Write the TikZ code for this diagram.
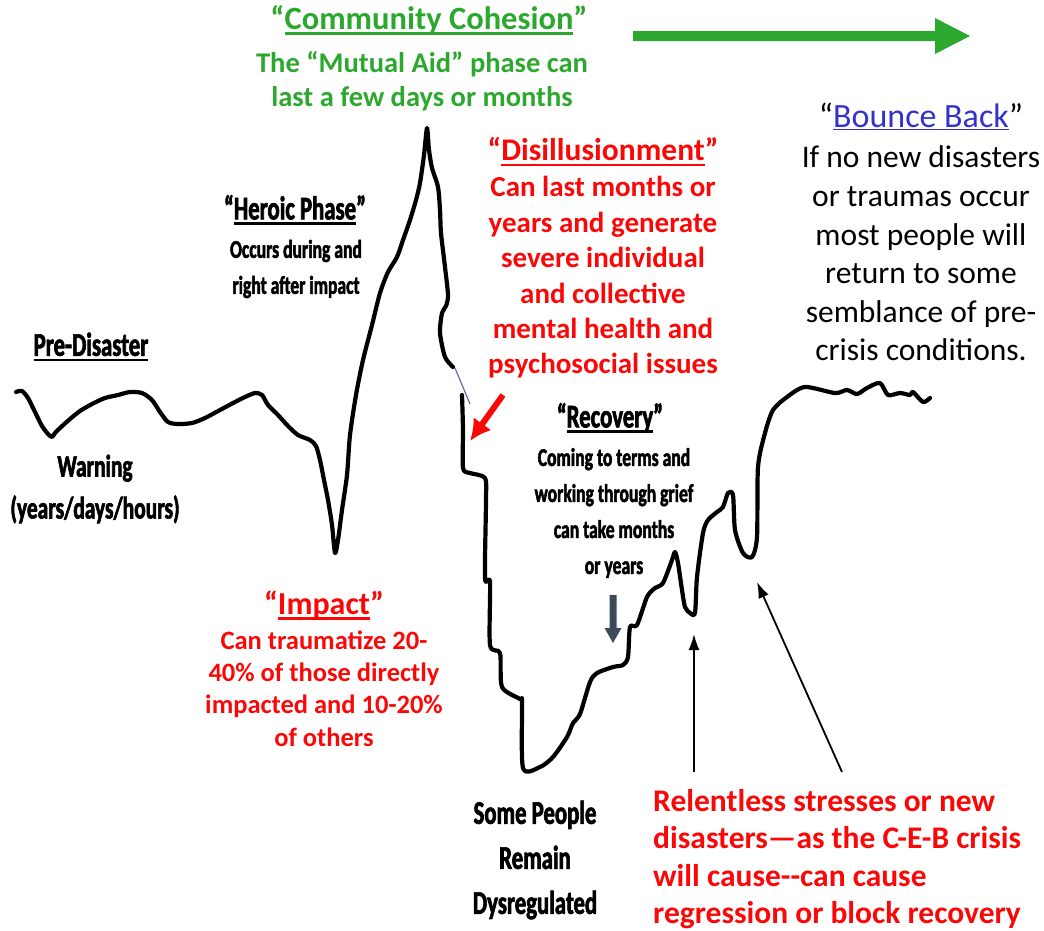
\documentclass[tikz,border=0pt]{standalone}
\usepackage{fontspec}
\setmainfont{Carlito}
\newfontfamily\condensed[FakeStretch=0.69, FakeBold=2]{Carlito}
\usetikzlibrary{arrows.meta}

\definecolor{cohesiongreen}{RGB}{44,168,46}
\definecolor{alertred}{RGB}{250,8,8}
\definecolor{linkblue}{RGB}{51,51,204}
\definecolor{slate}{RGB}{61,74,92}
\definecolor{dusk}{RGB}{125,95,175}

% heavier underline, close under the baseline
\newcommand{\thickunder}[1]{\setbox0\hbox{#1}\rlap{\rule[-0.17em]{\wd0}{0.085em}}\box0}

\begin{document}
\begin{tikzpicture}[x=1pt, y=-1pt,
  every node/.style = {align=center, inner sep=0pt},
  curve/.style = {draw, line width=4.2pt, line join=round, line cap=round},
  pointer/.style = {draw, line width=1.8pt, -{Latex[length=16pt,width=11pt]}},
  phase/.style = {font=\condensed\bfseries\fontsize{33}{38}\selectfont},
  phase note/.style = {font=\condensed\bfseries\fontsize{25.5}{36}\selectfont},
  cohesion/.style = {text=cohesiongreen, font=\bfseries\fontsize{28.5}{34}\selectfont},
  alarm/.style = {text=alertred, font=\bfseries\fontsize{29}{35.4}\selectfont},
  bounce/.style = {font=\fontsize{31.5}{38.6}\selectfont}]

\useasboundingbox (0,0) rectangle (1044,930);

% Define the phase labels
\node[cohesion, font=\bfseries\fontsize{32.5}{34}\selectfont] (cohesion) at (429,20)
  {“\thickunder{Community Cohesion}”};
\node[cohesion] (mutual aid) at (422,81) {The “Mutual Aid” phase can\\last a few days or months};

\node[bounce, font=\fontsize{34}{38.6}\selectfont] (bounce back) at (921,116)
  {“\textcolor{linkblue}{\underline{Bounce Back}}”};
\node[bounce] (bounce text) at (921,253.5) {If no new disasters\\or traumas occur\\most people will\\
  return to some\\semblance of pre-\\crisis conditions.};

\node[alarm, font=\bfseries\fontsize{31.5}{35}\selectfont] (disillusion) at (603,152)
  {“\thickunder{Disillusionment}”};
\node[alarm] (disillusion text) at (603,277.5) {Can last months or\\years and generate\\
  severe individual\\and collective\\mental health and\\psychosocial issues};

\node[phase] (heroic) at (295,210) {“\thickunder{Heroic Phase}”};
\node[phase note] (heroic text) at (296,269) {Occurs during and\\right after impact};

\node[phase] (pre disaster) at (91,347) {\thickunder{Pre-Disaster}};
\node[phase, font=\condensed\bfseries\fontsize{31}{42}\selectfont] (warning) at (95,489)
  {Warning\\(years/days/hours)};

\node[alarm, font=\bfseries\fontsize{32}{32}\selectfont] (impact) at (324,605) {“\thickunder{Impact}”};
\node[alarm, font=\bfseries\fontsize{26.5}{32.3}\selectfont] (impact text) at (324,688.5)
  {Can traumatize 20-\\40\% of those directly\\impacted and 10-20\%\\of others};

\node[phase] (recovery) at (610,418) {“\thickunder{Recovery}”};
\node[phase note] (recovery text) at (614,513) {Coming to terms and\\working through grief\\
  can take months\\or years};

\node[phase, font=\condensed\bfseries\fontsize{33}{45}\selectfont] (dysregulated) at (535,860)
  {Some People\\Remain\\Dysregulated};

\node[alarm, font=\bfseries\fontsize{31.5}{37.3}\selectfont, anchor=west, align=left] (relentless)
  at (653,859) {Relentless stresses or new\\disasters—as the C-E-B crisis\\
  will cause-{}-can cause\\regression or block recovery};

% The curve, rise and fall
\draw[curve] plot[smooth, tension=0.45] coordinates {
  (16,392) (22,391) (28,398) (35,412) (42,426) (48,434) (52,437) (55,433) (60,428)
  (70,419) (80,411) (92,404) (105,398) (118,395) (130,392) (142,393) (152,400)
  (160,412) (168,422) (178,424) (192,423) (205,418) (220,410) (235,402) (245,397)
  (255,393) (262,395) (268,405) (278,415) (288,426) (298,435) (310,440) (316,446)
  (320,460) (324,480) (328,500) (332,525) (335,553) (338,540) (342,510) (347,475)
  (350,435) (356,395) (363,360) (372,325) (380,293) (388,272) (397,257) (403,240)
  (410,220) (416,200) (420,183) (424,155) (427,128) (429,150) (432,168) (438,187)
  (440,210) (441,233) (445,267) (448,295) (446,306) (442,313) (440,333) (445,357)
  (453,367)};
\draw[dusk, line width=1.2pt] (455,368) -- (470,404);
\draw[curve] plot[smooth, tension=0.45] coordinates {
  (462,395) (463,430) (463,468) (470,473) (485,478) (486,500) (485,578) (490,582)
  (490,645) (500,653) (502,687) (520,699) (522,702) (523,768) (540,767) (553,757)
  (567,737) (573,723) (580,714) (590,682) (597,673) (613,667) (623,665) (628,657)
  (630,627) (637,625) (647,597) (655,588) (663,583) (672,560) (675,552) (678,563)
  (682,590) (685,607) (690,613) (695,613) (697,577) (703,533) (708,520) (717,512)
  (723,507) (728,493) (733,495) (735,530) (743,553) (752,557) (757,537) (758,467)
  (765,433) (773,410) (787,397) (805,387) (835,393) (847,390) (857,394) (867,388)
  (880,383) (888,395) (900,393) (910,395) (913,392) (923,402) (930,398)};

% Arrows
\fill[cohesiongreen] (633,31) -- (935,31) -- (935,18) -- (970,36) -- (935,54) -- (935,41)
  -- (633,41) -- cycle;
\fill[slate] (609.5,595) -- (616.5,595) -- (616.5,628) -- (621.5,628) -- (613,643)
  -- (604.5,628) -- (609.5,628) -- cycle;

\coordinate (grief tail) at (503,395);
\coordinate (grief tip) at (470,441);
\draw[alertred, line width=6pt, -{Latex[length=21pt,width=22pt]}] (grief tail) -- (grief tip);

\coordinate (first dip) at (694,634);
\coordinate (second dip) at (757,582);
\coordinate (first base) at (694,772);
\coordinate (second base) at (842,772);
\draw[pointer] (first base) -- (first dip);
\draw[pointer] (second base) -- (second dip);
\end{tikzpicture}
\end{document}
